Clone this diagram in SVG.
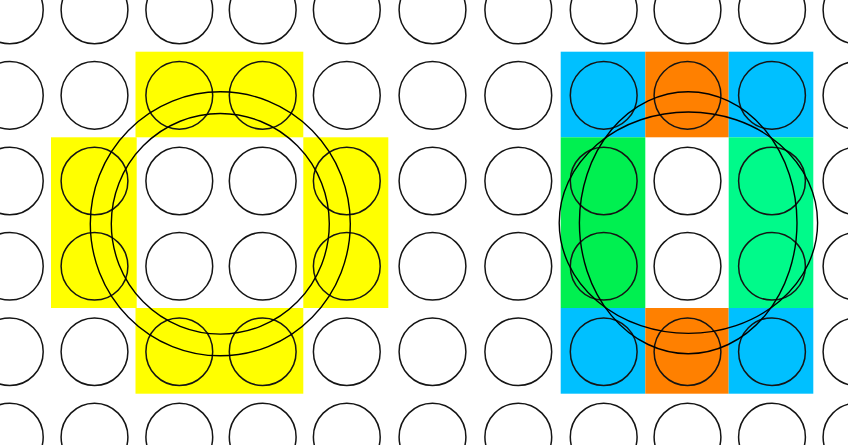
<svg xmlns="http://www.w3.org/2000/svg" xmlns:xlink="http://www.w3.org/1999/xlink" width="848" height="445" viewBox="0 0 848 445">
  <style>
    .cell { fill: none; stroke: #141414; stroke-width: 1.5; }
    .ring { fill: none; stroke: #000000; stroke-width: 1.4; }
    .yellow { fill: #ffff00; }
    .blue { fill: #00c0ff; }
    .orange { fill: #ff8000; }
    .greenL { fill: #00f050; }
    .greenR { fill: #00fa8a; }
  </style>
  <defs>
    <ellipse id="c" cx="0" cy="0" rx="33.4" ry="33.8"/>
  </defs>
  <rect x="0" y="0" width="848" height="445" fill="#ffffff"/>

  <g id="highlight-left">
    <rect class="yellow" x="135.5" y="51.7" width="167.8" height="85.6"/>
    <rect class="yellow" x="51" y="137.3" width="85.7" height="170.7"/>
    <rect class="yellow" x="303.3" y="137.3" width="85" height="170.7"/>
    <rect class="yellow" x="135.5" y="308" width="167.8" height="85.7"/>
  </g>

  <g id="highlight-right">
    <rect class="blue" x="560.7" y="51.7" width="84.6" height="85.6"/>
    <rect class="orange" x="645.3" y="51.7" width="83.4" height="85.6"/>
    <rect class="blue" x="728.7" y="51.7" width="84.6" height="85.6"/>
    <rect class="greenL" x="560.7" y="137.3" width="84.6" height="170.7"/>
    <rect class="greenR" x="728.7" y="137.3" width="84.6" height="170.7"/>
    <rect class="blue" x="560.7" y="308" width="84.6" height="85.7"/>
    <rect class="orange" x="645.3" y="308" width="83.4" height="85.7"/>
    <rect class="blue" x="728.7" y="308" width="84.6" height="85.7"/>
  </g>

  <g id="grid" class="cell">
    <use href="#c" x="9.8" y="10"/><use href="#c" x="94.5" y="10"/><use href="#c" x="179.3" y="10"/><use href="#c" x="262.7" y="10"/><use href="#c" x="346.8" y="10"/><use href="#c" x="432.5" y="10"/><use href="#c" x="518.3" y="10"/><use href="#c" x="603.7" y="10"/><use href="#c" x="687.5" y="10"/><use href="#c" x="772" y="10"/><use href="#c" x="856.5" y="10"/>
    <use href="#c" x="9.8" y="95.4"/><use href="#c" x="94.5" y="95.4"/><use href="#c" x="179.3" y="95.4"/><use href="#c" x="262.7" y="95.4"/><use href="#c" x="346.8" y="95.4"/><use href="#c" x="432.5" y="95.4"/><use href="#c" x="518.3" y="95.4"/><use href="#c" x="603.7" y="95.4"/><use href="#c" x="687.5" y="95.4"/><use href="#c" x="772" y="95.4"/><use href="#c" x="856.5" y="95.4"/>
    <use href="#c" x="9.8" y="181"/><use href="#c" x="94.5" y="181"/><use href="#c" x="179.3" y="181"/><use href="#c" x="262.7" y="181"/><use href="#c" x="346.8" y="181"/><use href="#c" x="432.5" y="181"/><use href="#c" x="518.3" y="181"/><use href="#c" x="603.7" y="181"/><use href="#c" x="687.5" y="181"/><use href="#c" x="772" y="181"/><use href="#c" x="856.5" y="181"/>
    <use href="#c" x="9.8" y="266.3"/><use href="#c" x="94.5" y="266.3"/><use href="#c" x="179.3" y="266.3"/><use href="#c" x="262.7" y="266.3"/><use href="#c" x="346.8" y="266.3"/><use href="#c" x="432.5" y="266.3"/><use href="#c" x="518.3" y="266.3"/><use href="#c" x="603.7" y="266.3"/><use href="#c" x="687.5" y="266.3"/><use href="#c" x="772" y="266.3"/><use href="#c" x="856.5" y="266.3"/>
    <use href="#c" x="9.8" y="351.7"/><use href="#c" x="94.5" y="351.7"/><use href="#c" x="179.3" y="351.7"/><use href="#c" x="262.7" y="351.7"/><use href="#c" x="346.8" y="351.7"/><use href="#c" x="432.5" y="351.7"/><use href="#c" x="518.3" y="351.7"/><use href="#c" x="603.7" y="351.7"/><use href="#c" x="687.5" y="351.7"/><use href="#c" x="772" y="351.7"/><use href="#c" x="856.5" y="351.7"/>
    <use href="#c" x="9.8" y="437"/><use href="#c" x="94.5" y="437"/><use href="#c" x="179.3" y="437"/><use href="#c" x="262.7" y="437"/><use href="#c" x="346.8" y="437"/><use href="#c" x="432.5" y="437"/><use href="#c" x="518.3" y="437"/><use href="#c" x="603.7" y="437"/><use href="#c" x="687.5" y="437"/><use href="#c" x="772" y="437"/><use href="#c" x="856.5" y="437"/>
  </g>

  <g id="rings-left">
    <ellipse class="ring" cx="220.3" cy="223.8" rx="130" ry="132"/>
    <ellipse class="ring" cx="220.3" cy="223.8" rx="109" ry="110.3"/>
  </g>

  <g id="rings-right">
    <ellipse class="ring" cx="688.4" cy="222.7" rx="129.2" ry="110.7"/>
    <ellipse class="ring" cx="688.2" cy="222.7" rx="108.8" ry="131"/>
  </g>
</svg>
